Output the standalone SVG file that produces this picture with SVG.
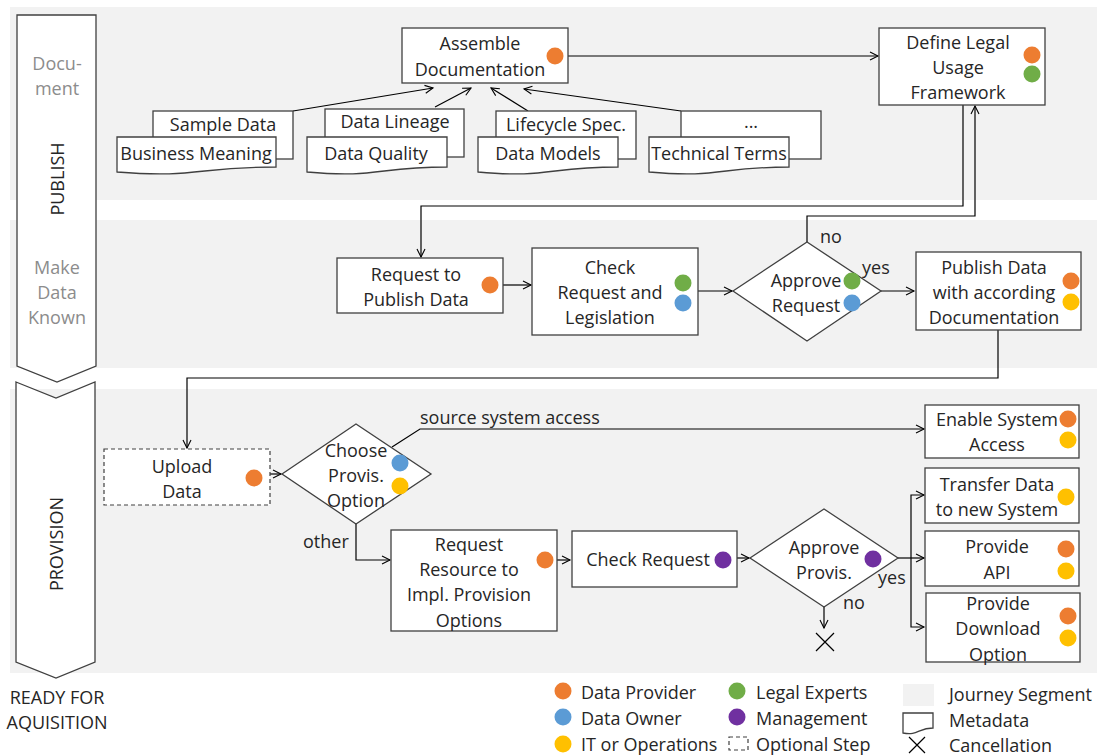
<svg xmlns="http://www.w3.org/2000/svg" width="1098" height="755" viewBox="0 0 1098 755">
<defs>
<marker id="arr" markerUnits="userSpaceOnUse" markerWidth="10" markerHeight="10" refX="8" refY="4" orient="auto" overflow="visible">
<path d="M0,0 L8,4 L0,8" fill="none" stroke="#000" stroke-width="1.1"/>
</marker>
<style>
text{font-family:"Open Sans","Liberation Sans",sans-serif;font-size:18px;fill:#262626}
.c{text-anchor:middle;dominant-baseline:central}
.l{dominant-baseline:central}
.g{fill:#8c8c8c}
.seg{fill:#f2f2f2}
.box{fill:#fff;stroke:#404040;stroke-width:1.3}
.dash{fill:#fff;stroke:#404040;stroke-width:1.2;stroke-dasharray:4 3}
.chev{fill:#fff;stroke:#404040;stroke-width:1.3}
.con{fill:none;stroke:#000;stroke-width:1.2}
.ca{fill:none;stroke:#000;stroke-width:1.2;marker-end:url(#arr)}
.o{fill:#ED7D31}.b{fill:#5B9BD5}.y{fill:#FFC000}.gr{fill:#70AD47}.p{fill:#7030A0}
</style>
</defs>

<!-- journey segments -->
<g id="segments">
<rect class="seg" x="10" y="7" width="1087" height="193"/>
<rect class="seg" x="10" y="220" width="1087" height="148"/>
<rect class="seg" x="10" y="389" width="1087" height="284"/>
</g>

<!-- chevrons -->
<g id="chevron-publish">
<polygon class="chev" points="17,15 96,15 96,366 57,382 17,366"/>
<text class="c g" x="57" y="63">Docu-</text>
<text class="c g" x="57" y="88">ment</text>
<text class="c" transform="translate(57,179) rotate(-90)">PUBLISH</text>
<text class="c g" x="57" y="267">Make</text>
<text class="c g" x="57" y="292">Data</text>
<text class="c g" x="57" y="317">Known</text>
</g>
<g id="chevron-provision">
<polygon class="chev" points="16,382 56,398 95,382 95,662 56,678 16,662"/>
<text class="c" transform="translate(56,544) rotate(-90)">PROVISION</text>
<text class="c" x="57" y="697">READY FOR</text>
<text class="c" x="57" y="722">AQUISITION</text>
</g>

<!-- connectors -->
<g id="connectors">
<line class="ca" x1="568" y1="56" x2="878" y2="56"/>
<line class="ca" x1="293" y1="111" x2="433" y2="88"/>
<line class="ca" x1="435" y1="107" x2="471" y2="88"/>
<line class="ca" x1="528" y1="111" x2="491" y2="88"/>
<line class="ca" x1="681" y1="111" x2="524" y2="89"/>
<polyline class="ca" points="963,105 963,206 421,206 421,257"/>
<line class="ca" x1="503" y1="285" x2="531" y2="285"/>
<line class="ca" x1="698" y1="291" x2="732" y2="291"/>
<polyline class="ca" points="807,242 807,216 975,216 975,106"/>
<line class="ca" x1="881" y1="291" x2="914" y2="291"/>
<polyline class="ca" points="998,330 998,378 187,378 187,448"/>
<line class="ca" x1="270" y1="474" x2="281" y2="474"/>
<polyline class="ca" points="392,447 420,429 924,429"/>
<polyline class="ca" points="356,524 356,560 390,560"/>
<line class="ca" x1="557" y1="560" x2="570" y2="560"/>
<line class="ca" x1="737" y1="558" x2="749" y2="558"/>
<line class="ca" x1="824" y1="607" x2="824" y2="628"/>
<line class="ca" x1="898" y1="558" x2="924" y2="558"/>
<polyline class="ca" points="911,558 911,495 924,495"/>
<polyline class="ca" points="911,558 911,627 924,627"/>
<text class="l" x="820" y="236">no</text>
<text class="l" x="862" y="267">yes</text>
<text class="l" x="420" y="417">source system access</text>
<text class="l" x="303" y="541">other</text>
<text class="l" x="878" y="577">yes</text>
<text class="l" x="843" y="602">no</text>
</g>

<!-- metadata documents -->
<g id="doc-sample-business">
<rect class="box" x="153" y="111" width="140" height="48"/>
<text class="c" x="223" y="124">Sample Data</text>
<path class="box" d="M117,137 H276 V167 C196.5,167 196.5,178.4 117,172 Z"/>
<text class="c" x="196" y="153">Business Meaning</text>
</g>
<g id="doc-lineage-quality">
<rect class="box" x="325" y="109" width="139" height="48"/>
<text class="c" x="395" y="121">Data Lineage</text>
<path class="box" d="M307,137 H447 V167 C377,167 377,178.4 307,172 Z"/>
<text class="c" x="376" y="153">Data Quality</text>
</g>
<g id="doc-lifecycle-models">
<rect class="box" x="496" y="111" width="140" height="48"/>
<text class="c" x="566" y="124">Lifecycle Spec.</text>
<path class="box" d="M478,137 H618 V167 C548,167 548,178.4 478,172 Z"/>
<text class="c" x="548" y="153">Data Models</text>
</g>
<g id="doc-more-technical">
<rect class="box" x="681" y="111" width="140" height="48"/>
<text class="c" x="751" y="121">...</text>
<path class="box" d="M649,137 H789 V167 C719,167 719,178.4 649,172 Z"/>
<text class="c" x="719" y="153">Technical Terms</text>
</g>

<!-- publish nodes -->
<g id="assemble-documentation">
<rect class="box" x="402" y="28" width="166" height="55"/>
<text class="c" x="480" y="43">Assemble</text>
<text class="c" x="480" y="69">Documentation</text>
<circle class="o" cx="555" cy="56" r="8.5"/>
</g>
<g id="define-legal">
<rect class="box" x="879" y="28" width="166" height="77"/>
<text class="c" x="958" y="42">Define Legal</text>
<text class="c" x="958" y="67">Usage</text>
<text class="c" x="958" y="92">Framework</text>
<circle class="o" cx="1032" cy="55" r="8.5"/>
<circle class="gr" cx="1032" cy="74" r="8.5"/>
</g>

<!-- make data known -->
<g id="request-publish">
<rect class="box" x="337" y="258" width="166" height="55"/>
<text class="c" x="416" y="274">Request to</text>
<text class="c" x="416" y="299">Publish Data</text>
<circle class="o" cx="490" cy="285" r="8.5"/>
</g>
<g id="check-request-legislation">
<rect class="box" x="532" y="248" width="166" height="87"/>
<text class="c" x="610" y="267">Check</text>
<text class="c" x="610" y="292">Request and</text>
<text class="c" x="610" y="317">Legislation</text>
<circle class="gr" cx="683" cy="283" r="8.5"/>
<circle class="b" cx="683" cy="303" r="8.5"/>
</g>
<g id="approve-request">
<polygon class="box" points="733,291 807,242 881,291 807,341"/>
<text class="c" x="806" y="280">Approve</text>
<text class="c" x="806" y="305">Request</text>
<circle class="gr" cx="852" cy="281" r="8.5"/>
<circle class="b" cx="852" cy="303" r="8.5"/>
</g>
<g id="publish-data">
<rect class="box" x="916" y="252" width="165" height="78"/>
<text class="c" x="994" y="267">Publish Data</text>
<text class="c" x="994" y="292">with according</text>
<text class="c" x="994" y="317">Documentation</text>
<circle class="o" cx="1071" cy="281" r="8.5"/>
<circle class="y" cx="1071" cy="302" r="8.5"/>
</g>

<!-- provision -->
<g id="upload-data">
<rect class="dash" x="104" y="449" width="166" height="56"/>
<text class="c" x="182" y="466">Upload</text>
<text class="c" x="182" y="491">Data</text>
<circle class="o" cx="254" cy="478" r="8.5"/>
</g>
<g id="choose-provision">
<polygon class="box" points="282,474 356,424 431,474 356,524"/>
<text class="c" x="356" y="450">Choose</text>
<text class="c" x="356" y="475">Provis.</text>
<text class="c" x="356" y="500">Option</text>
<circle class="b" cx="400" cy="463" r="8.5"/>
<circle class="y" cx="400" cy="486" r="8.5"/>
</g>
<g id="enable-system-access">
<rect class="box" x="925" y="405" width="154" height="53"/>
<text class="c" x="997" y="419">Enable System</text>
<text class="c" x="997" y="444">Access</text>
<circle class="o" cx="1068" cy="419" r="8.5"/>
<circle class="y" cx="1068" cy="440" r="8.5"/>
</g>
<g id="request-resource">
<rect class="box" x="391" y="530" width="166" height="101"/>
<text class="c" x="469" y="544">Request</text>
<text class="c" x="469" y="569">Resource to</text>
<text class="c" x="469" y="594">Impl. Provision</text>
<text class="c" x="469" y="620">Options</text>
<circle class="o" cx="545" cy="560" r="8.5"/>
</g>
<g id="check-request">
<rect class="box" x="572" y="531" width="165" height="56"/>
<text class="c" x="648" y="559">Check Request</text>
<circle class="p" cx="723" cy="560" r="8.5"/>
</g>
<g id="approve-provision">
<polygon class="box" points="750,558 824,509 898,558 824,607"/>
<text class="c" x="824" y="547">Approve</text>
<text class="c" x="824" y="572">Provis.</text>
<circle class="p" cx="873" cy="559" r="8.5"/>
</g>
<g id="cancellation">
<path class="con" d="M816,633 L834,651 M834,633 L816,651"/>
</g>
<g id="transfer-data">
<rect class="box" x="925" y="468" width="154" height="55"/>
<text class="c" x="997" y="484">Transfer Data</text>
<text class="c" x="997" y="509">to new System</text>
<circle class="y" cx="1066" cy="497" r="8.5"/>
</g>
<g id="provide-api">
<rect class="box" x="925" y="531" width="154" height="55"/>
<text class="c" x="997" y="546">Provide</text>
<text class="c" x="997" y="572">API</text>
<circle class="o" cx="1066" cy="549" r="8.5"/>
<circle class="y" cx="1066" cy="571" r="8.5"/>
</g>
<g id="provide-download">
<rect class="box" x="926" y="593" width="154" height="69"/>
<text class="c" x="998" y="603">Provide</text>
<text class="c" x="998" y="628">Download</text>
<text class="c" x="998" y="654">Option</text>
<circle class="o" cx="1068" cy="616" r="8.5"/>
<circle class="y" cx="1068" cy="638" r="8.5"/>
</g>

<!-- legend -->
<g id="legend">
<circle class="o" cx="563" cy="691" r="8.5"/>
<text class="l" x="581" y="692">Data Provider</text>
<circle class="b" cx="563" cy="717" r="8.5"/>
<text class="l" x="581" y="718">Data Owner</text>
<circle class="y" cx="563" cy="744" r="8.5"/>
<text class="l" x="581" y="744">IT or Operations</text>
<circle class="gr" cx="737" cy="691" r="8.5"/>
<text class="l" x="756" y="692">Legal Experts</text>
<circle class="p" cx="737" cy="717" r="8.5"/>
<text class="l" x="756" y="718">Management</text>
<rect class="dash" x="729" y="737" width="19" height="13" stroke-dasharray="3 2"/>
<text class="l" x="756" y="744">Optional Step</text>
<rect class="seg" x="903" y="684" width="31" height="22"/>
<text class="l" x="949" y="694">Journey Segment</text>
<path class="box" d="M903,713 H933 V728 C918,728 918,736 903,733 Z"/>
<text class="l" x="949" y="720">Metadata</text>
<path class="con" d="M909,737 L925,753 M925,737 L909,753"/>
<text class="l" x="949" y="745">Cancellation</text>
</g>
</svg>
